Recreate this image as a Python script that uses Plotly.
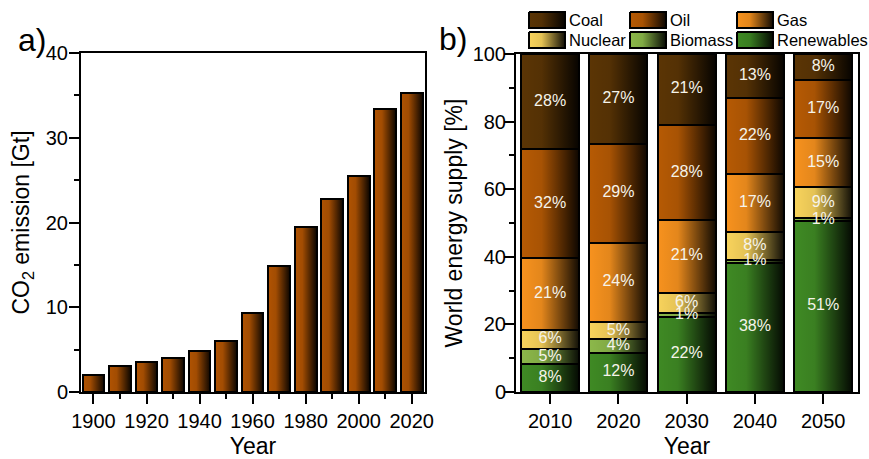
import plotly.graph_objects as go

# ---- a) global CO2 emissions ----
years_co2 = [1900, 1910, 1920, 1930, 1940, 1950, 1960, 1970, 1980, 1990, 2000, 2010, 2020]
co2_gt = [1.95, 3.07, 3.54, 3.97, 4.88, 6.02, 9.36, 14.9, 19.47, 22.77, 25.45, 33.35, 35.28]

# ---- b) world energy supply mix [%], stacked bottom -> top ----
years_mix = [2010, 2020, 2030, 2040, 2050]
renewables = [8.2, 11.6, 22.2, 38.2, 50.6]
biomass = [4.6, 4.1, 1.2, 0.9, 0.8]
nuclear = [5.6, 4.9, 6.0, 8.1, 9.2]
gas = [21.1, 23.6, 21.4, 17.4, 14.6]
oil = [32.3, 29.2, 28.2, 22.4, 17.2]
coal = [28.2, 26.6, 21.0, 13.0, 7.6]

stack_order = ["Renewables", "Biomass", "Nuclear", "Gas", "Oil", "Coal"]
shares = {"Renewables": renewables, "Biomass": biomass, "Nuclear": nuclear,
          "Gas": gas, "Oil": oil, "Coal": coal}
legend_order = ["Coal", "Oil", "Gas", "Nuclear", "Biomass", "Renewables"]

colors = {"Coal": "#5b3505", "Oil": "#b65a04", "Gas": "#f7921e",
          "Nuclear": "#f8d35c", "Biomass": "#8cb84a", "Renewables": "#3f8a24"}
co2_color = "#b05302"

FONT = "Liberation Sans, Arial, sans-serif"
W, H = 869, 459
BAR_W_A = 8.2
BAR_W_B = 8.5
SHADE = [[0.0, "rgba(0,0,0,0)"], [0.35, "rgba(0,0,0,0.08)"], [1.0, "rgba(0,0,0,0.93)"]]


def darken(hex_color, f):
    h = hex_color.lstrip("#")
    r, g, b = (int(h[i:i + 2], 16) for i in (0, 2, 4))
    return f"rgb({int(r * f)},{int(g * f)},{int(b * f)})"


def shade_rect(fig, xc, y0, y1, width, xa, ya):
    """Horizontal dark gradient laid over one bar."""
    x0, x1 = xc - width / 2, xc + width / 2
    fig.add_trace(go.Scatter(
        x=[x0, x1, x1, x0, x0], y=[y0, y0, y1, y1, y0], mode="lines",
        line=dict(width=0), fill="toself",
        fillgradient=dict(type="horizontal", colorscale=SHADE),
        hoverinfo="skip", showlegend=False, xaxis=xa, yaxis=ya))


fig = go.Figure()

# panel a bars
fig.add_trace(go.Bar(x=years_co2, y=co2_gt, width=BAR_W_A,
                     marker=dict(color=co2_color, line=dict(color="black", width=2)),
                     showlegend=False, xaxis="x", yaxis="y"))
for xc, v in zip(years_co2, co2_gt):
    shade_rect(fig, xc, 0, v, BAR_W_A, "x", "y")

# panel b stacked bars
for name in stack_order:
    fig.add_trace(go.Bar(x=years_mix, y=shares[name], width=BAR_W_B, name=name,
                         marker=dict(color=colors[name], line=dict(color="black", width=2)),
                         showlegend=False, xaxis="x2", yaxis="y2"))
totals = [sum(shares[n][i] for n in stack_order) for i in range(len(years_mix))]
for xc, t in zip(years_mix, totals):
    shade_rect(fig, xc, 0, t, BAR_W_B, "x2", "y2")

# percentage labels at segment centres
lx, ly, lt = [], [], []
for i, yr in enumerate(years_mix):
    base = 0.0
    for name in stack_order:
        v = shares[name][i]
        lx.append(yr)
        ly.append(base + v / 2)
        lt.append(f"{v:.0f}%")
        base += v
fig.add_trace(go.Scatter(x=lx, y=ly, text=lt, mode="text",
                         textfont=dict(family=FONT, size=16, color="#f6f4ea"),
                         cliponaxis=False, hoverinfo="skip", showlegend=False,
                         xaxis="x2", yaxis="y2"))

# legend block (pixel-space helper axes)
col_x = [529, 630, 737]
row_y = [12, 32]
sw_w, sw_h = 36, 16
annotations = []
for k, name in enumerate(legend_order):
    x0 = col_x[k % 3]
    y0 = row_y[k // 3]
    fig.add_trace(go.Scatter(
        x=[x0, x0 + sw_w, x0 + sw_w, x0, x0], y=[y0, y0, y0 + sw_h, y0 + sw_h, y0],
        mode="lines", line=dict(color="black", width=2), fill="toself",
        fillgradient=dict(type="horizontal",
                          colorscale=[[0, colors[name]], [0.35, darken(colors[name], 0.92)],
                                      [1, darken(colors[name], 0.07)]]),
        hoverinfo="skip", showlegend=False, xaxis="x3", yaxis="y3"))
    annotations.append(dict(x=(x0 + sw_w + 2) / W, y=1 - (y0 + sw_h / 2) / H,
                            xref="paper", yref="paper", xanchor="left", yanchor="middle",
                            text=name, showarrow=False,
                            font=dict(family=FONT, size=16.5, color="black")))

annotations += [
    dict(x=32 / W, y=1 - 40 / H, xref="paper", yref="paper", text="a)", showarrow=False,
         xanchor="center", yanchor="middle", font=dict(family=FONT, size=32, color="black")),
    dict(x=453 / W, y=1 - 39 / H, xref="paper", yref="paper", text="b)", showarrow=False,
         xanchor="center", yanchor="middle", font=dict(family=FONT, size=32, color="black")),
]

axis_common = dict(showline=True, linewidth=2, linecolor="black", mirror=True,
                   ticks="outside", ticklen=10, tickwidth=2, tickcolor="black",
                   showgrid=False, zeroline=False, automargin=False,
                   tickfont=dict(family=FONT, size=20, color="black"))
title_font = dict(family=FONT, size=23, color="black")

fig.update_layout(
    width=W, height=H, margin=dict(l=0, r=0, t=0, b=0, pad=0, autoexpand=False),
    paper_bgcolor="white", plot_bgcolor="rgba(0,0,0,0)",
    barmode="stack", showlegend=False,
    font=dict(family=FONT, color="black"),
    annotations=annotations,
    xaxis=dict(axis_common, domain=[81 / W, 425 / W], range=[1895.3, 2025.0],
               tickmode="linear", tick0=1900, dtick=20,
               minor=dict(dtick=10, ticklen=5, tickwidth=2, ticks="outside", tickcolor="black"),
               title=dict(text="Year", font=title_font, standoff=8), anchor="y"),
    yaxis=dict(axis_common, domain=[(H - 392) / H, (H - 53) / H], range=[0, 40],
               tickmode="linear", tick0=0, dtick=10, ticklabelstandoff=-3,
               minor=dict(dtick=5, ticklen=5, tickwidth=2, ticks="outside", tickcolor="black"),
               title=dict(text="CO<sub>2</sub> emission [Gt]", font=title_font, standoff=10),
               anchor="x"),
    xaxis2=dict(axis_common, domain=[516 / W, 858 / W], range=[2005.0, 2055.1],
                tickmode="array", tickvals=years_mix,
                title=dict(text="Year", font=title_font, standoff=8), anchor="y2"),
    yaxis2=dict(axis_common, domain=[(H - 392) / H, (H - 54) / H], range=[0, 100],
                tickmode="linear", tick0=0, dtick=20, ticklabelstandoff=-6,
                minor=dict(dtick=10, ticklen=5, tickwidth=2, ticks="outside", tickcolor="black"),
                title=dict(text="World energy supply [%]", font=title_font, standoff=4),
                anchor="x2"),
    xaxis3=dict(domain=[0, 1], range=[0, W], visible=False, anchor="y3", fixedrange=True),
    yaxis3=dict(domain=[0, 1], range=[H, 0], visible=False, anchor="x3", fixedrange=True),
)

fig.write_html("out.html")
